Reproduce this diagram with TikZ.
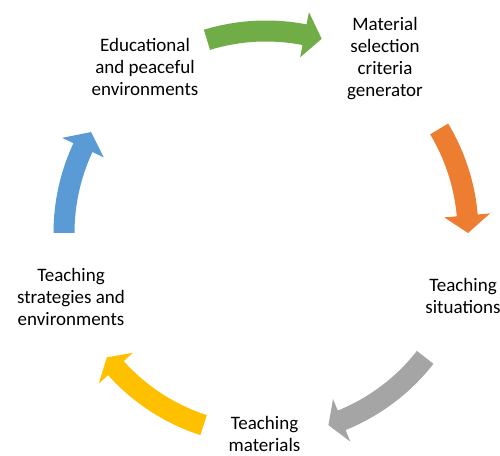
\documentclass[tikz,border=0pt]{standalone}
\usepackage{fontspec}
\setmainfont{Carlito}
\usepackage{tikz}
\definecolor{arrgreen}{HTML}{70AD47}
\definecolor{arrorange}{HTML}{ED7D31}
\definecolor{arrgray}{HTML}{A5A5A5}
\definecolor{arryellow}{HTML}{FFC000}
\definecolor{arrblue}{HTML}{5B9BD5}

\begin{document}
\begin{tikzpicture}[x=1pt, y=1pt, stage/.style={align=center, inner sep=0pt, font=\fontsize{19}{22}\selectfont}]
\useasboundingbox (0,0) rectangle (500,455);
\coordinate (c) at (266,222);
\node[stage] (gen) at (385,396.5) {Material\\selection\\criteria\\generator};
\node[stage] (sit) at (463,159) {Teaching\\situations};
\node[stage] (mat) at (264.5,21) {Teaching\\materials};
\node[stage] (strat) at (71,158.5) {Teaching\\strategies and\\environments};
\node[stage] (edu) at (145,388.5) {Educational\\and peaceful\\environments};
% cycle arrows
\begin{scope}[shift={(c)}]
\fill[arrgreen] (107:212.5) arc[start angle=107, end angle=79, radius=212.5pt] -- (79:225) -- (74:202) -- (79:179) -- (79:191.5) arc[start angle=79, end angle=107, radius=191.5pt] -- cycle;
\fill[arrorange] (31:212.5) arc[start angle=31, end angle=5, radius=212.5pt] -- (5:225) -- (0:202) -- (5:179) -- (5:191.5) arc[start angle=5, end angle=31, radius=191.5pt] -- cycle;
\fill[arrgray] (-38:212.5) arc[start angle=-38, end angle=-68, radius=212.5pt] -- (-68:225) -- (-72:202) -- (-68:179) -- (-68:191.5) arc[start angle=-68, end angle=-38, radius=191.5pt] -- cycle;
\fill[arryellow] (-108:212.5) arc[start angle=-108, end angle=-138, radius=212.5pt] -- (-138:225) -- (-142:202) -- (-138:179) -- (-138:191.5) arc[start angle=-138, end angle=-108, radius=191.5pt] -- cycle;
\fill[arrblue] (180:212.5) arc[start angle=180, end angle=155, radius=212.5pt] -- (155:225) -- (150:202) -- (155:179) -- (155:191.5) arc[start angle=155, end angle=180, radius=191.5pt] -- cycle;
\end{scope}
\end{tikzpicture}
\end{document}
